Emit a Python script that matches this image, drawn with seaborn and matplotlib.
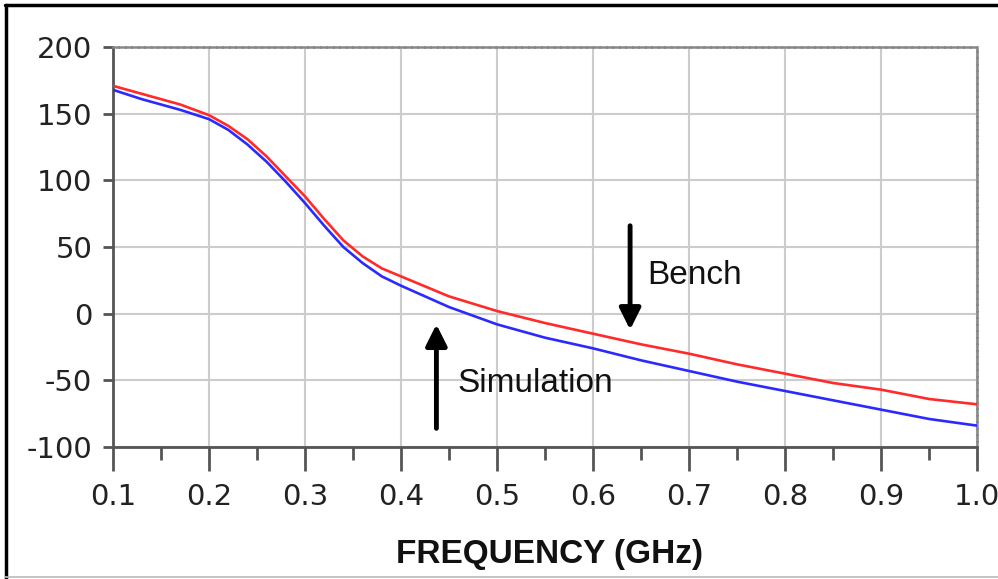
import pandas as pd
import seaborn as sns
import matplotlib.pyplot as plt
from matplotlib.lines import Line2D
from matplotlib.ticker import MultipleLocator

# ========= DATA =========
freq = [0.10, 0.13, 0.17, 0.20, 0.22, 0.24, 0.26, 0.28, 0.30, 0.32, 0.34, 0.36, 0.38,
        0.40, 0.45, 0.50, 0.55, 0.60, 0.65, 0.70, 0.75, 0.80, 0.85, 0.90, 0.95, 1.00]
bench = [171, 165, 157, 149, 141, 131, 118, 103, 88, 71, 55, 43, 34,
         28, 13, 2, -7, -15, -23, -30, -38, -45, -52, -57, -64, -68]
simulation = [168, 161, 153, 146, 138, 127, 114, 99, 83, 66, 50, 38, 28,
              21, 5, -8, -18, -26, -35, -43, -51, -58, -65, -72, -79, -84]

x_ticks = [0.1, 0.2, 0.3, 0.4, 0.5, 0.6, 0.7, 0.8, 0.9, 1.0]
x_labels = ["0.1", "0.2", "0.3", "0.4", "0.5", "0.6", "0.7", "0.8", "0.9", "1.0"]
y_ticks = [-100, -50, 0, 50, 100, 150, 200]

df = pd.DataFrame({
    "freq": freq * 2,
    "value": bench + simulation,
    "series": ["Bench"] * len(freq) + ["Simulation"] * len(freq),
})

# ========= PLOT =========
sns.set_style("white")
plt.rcParams["font.family"] = ["DejaVu Sans"]
plt.rcParams["axes.unicode_minus"] = False

fig = plt.figure(figsize=(9.98, 5.79), dpi=100)
ax = fig.add_axes([0.1132, 0.228, 0.866, 0.6905])

sns.lineplot(data=df, x="freq", y="value", hue="series",
             palette={"Bench": "#ff2a2a", "Simulation": "#2a2aff"},
             linewidth=1.9, legend=False, ax=ax, zorder=3)

ax.set_xlim(0.1, 1.0)
ax.set_ylim(-100, 200)
ax.set_xticks(x_ticks)
ax.set_xticklabels(x_labels)
ax.xaxis.set_minor_locator(MultipleLocator(0.05))
ax.set_yticks(y_ticks)

ax.grid(True, which="major", color="#cccccc", linewidth=1.5, zorder=0)
ax.set_axisbelow(True)

ax.tick_params(axis="x", which="major", bottom=True, direction="out", length=17,
               width=2, color="#555555", pad=9, labelsize=21, labelcolor="#222222")
ax.tick_params(axis="x", which="minor", bottom=True, direction="out", length=9,
               width=2, color="#555555")
ax.tick_params(axis="y", which="major", left=True, direction="out", length=7,
               width=2, color="#555555", pad=8, labelsize=21, labelcolor="#222222")

for side in ["left", "bottom"]:
    ax.spines[side].set_color("#555555")
    ax.spines[side].set_linewidth(2)
for side in ["top", "right"]:
    ax.spines[side].set_color("#888888")
    ax.spines[side].set_linewidth(1.8)
    ax.spines[side].set_linestyle((0, (2, 0.6)))

ax.set_xlabel("")
ax.set_ylabel("")

# annotation arrows
arrow_kw = dict(arrowstyle="-|>", color="black", lw=3.5, mutation_scale=32,
                shrinkA=0, shrinkB=0)
ax.annotate("", xy=(0.6385, -12), xytext=(0.6385, 66), arrowprops=arrow_kw)
ax.annotate("", xy=(0.4368, -8), xytext=(0.4368, -86), arrowprops=arrow_kw)
ax.text(0.656, 29, "Bench", fontsize=24, family=["Liberation Sans", "DejaVu Sans"],
        va="center", ha="left", color="#111111")
ax.text(0.4586, -52, "Simulation", fontsize=24, family=["Liberation Sans", "DejaVu Sans"],
        va="center", ha="left", color="#111111")

fig.text(0.551, 1 - 554 / 579, "FREQUENCY (GHz)", fontsize=24, fontweight="bold",
         family=["Liberation Sans", "DejaVu Sans"], ha="center", va="center",
         color="#111111")

# outer frame (left, top black; bottom light grey)
fig.add_artist(Line2D([0.006, 0.006], [0, 0.992], color="black", lw=2.5,
                      transform=fig.transFigure))
fig.add_artist(Line2D([0.005, 1.0], [0.992, 0.992], color="black", lw=2.5,
                      transform=fig.transFigure))
fig.add_artist(Line2D([0.005, 1.0], [0.003, 0.003], color="#bbbbbb", lw=1.2,
                      transform=fig.transFigure))

plt.savefig("out.png", dpi=100)
